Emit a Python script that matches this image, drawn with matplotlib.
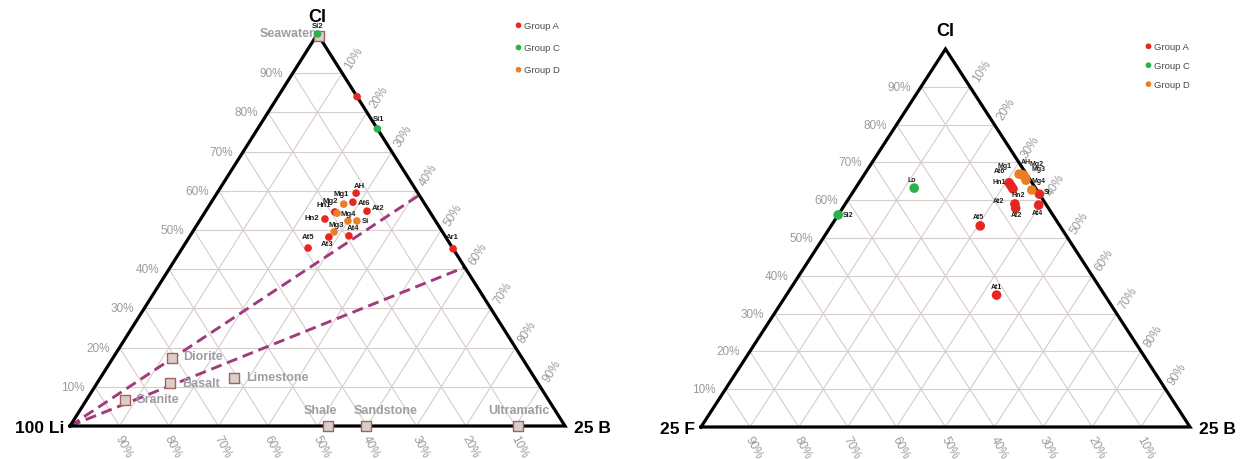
import numpy as np
import matplotlib
matplotlib.use("Agg")
import matplotlib.pyplot as plt

plt.rcParams['font.family'] = ['Liberation Sans', 'DejaVu Sans']

# ---------------------------------------------------------------- data
tick_pct = [10, 20, 30, 40, 50, 60, 70, 80, 90]

group_names = ["Group A", "Group C", "Group D"]
group_colors = {"Group A": "#e8261f", "Group C": "#2cb24d", "Group D": "#ea7f27"}

# Left diagram: Li (bottom left) - B (bottom right) - Cl (top), fractions
left_names = ["AH", "Mg1", "At6", "Hn1", "Mg2", "At2", "Hn2", "Mg4", "Si", "Mg3",
              "At4", "At3", "At5", "Si2", "", "Si1", "Ar1"]
left_groups = ["Group A", "Group D", "Group A", "Group A", "Group D", "Group A",
               "Group A", "Group D", "Group D", "Group D", "Group A", "Group A",
               "Group A", "Group C", "Group A", "Group C", "Group A"]
left_cl = [0.594, 0.566, 0.571, 0.546, 0.543, 0.548, 0.528, 0.523, 0.523, 0.495,
           0.485, 0.482, 0.454, 1.000, 0.840, 0.758, 0.452]
left_b = [0.281, 0.270, 0.286, 0.262, 0.268, 0.326, 0.251, 0.300, 0.318, 0.286,
          0.321, 0.282, 0.254, 0.000, 0.160, 0.242, 0.548]

# Reference materials on the Li-B-Cl diagram
rock_names = ["Seawater", "Diorite", "Basalt", "Limestone", "Granite",
              "Shale", "Sandstone", "Ultramafic"]
rock_cl = [0.995, 0.173, 0.110, 0.122, 0.066, 0.0, 0.0, 0.0]
rock_b = [0.005, 0.119, 0.147, 0.270, 0.078, 0.521, 0.598, 0.905]

# Mixing lines from the Li apex to the B-Cl side (Cl fraction at the side)
mixing_cl = [0.589, 0.405]

# Right diagram: F (bottom left) - B (bottom right) - Cl (top), fractions
right_names = ["Mg1", "AH", "Mg2", "Mg3", "At6", "Hn1", "Hn2", "Mg4", "Si",
               "At2", "At2", "At4", "At5", "At1", "Lo", "Si2"]
right_groups = ["Group D", "Group D", "Group D", "Group D", "Group A", "Group A",
                "Group A", "Group D", "Group A", "Group A", "Group A", "Group A",
                "Group A", "Group A", "Group C", "Group C"]
right_cl = [0.669, 0.667, 0.661, 0.653, 0.646, 0.638, 0.630, 0.627, 0.616,
            0.590, 0.579, 0.587, 0.532, 0.349, 0.632, 0.561]
right_b = [0.316, 0.325, 0.332, 0.338, 0.307, 0.315, 0.323, 0.363, 0.384,
           0.347, 0.354, 0.397, 0.305, 0.430, 0.120, 0.000]

# ---------------------------------------------------------------- layout
W, H = 1241, 460
PT = 0.72  # points per pixel at 100 dpi

GRID = "#d6cccc"
TICK = "#9b9b9b"
ROCK_TXT = "#9d9da5"

fig = plt.figure(figsize=(W / 100, H / 100), dpi=100)


def panel(x0, ybase, x1, ytop):
    ax = fig.add_axes([x0 / W, (H - ybase) / H, (x1 - x0) / W, (ybase - ytop) / H])
    ax.set_xlim(0, 1)
    ax.set_ylim(0, 1)
    ax.axis("off")
    ax.pxw, ax.pxh = x1 - x0, ybase - ytop
    return ax


def tern(b, cl):
    b = np.asarray(b, float)
    cl = np.asarray(cl, float)
    return b + cl / 2.0, cl


def off(ax, text, xy, dx, dy, **kw):
    ax.annotate(text, xy=xy, xytext=(dx * PT, -dy * PT), textcoords="offset points",
                annotation_clip=False, **kw)


def frame(ax, left_lbl, right_lbl):
    ang = np.degrees(np.arctan2(ax.pxh, ax.pxw / 2.0))
    for p in tick_pct:
        v = p / 100.0
        # constant top component
        ax.plot([v / 2, 1 - v / 2], [v, v], color=GRID, lw=0.8, zorder=1)
        # constant right component
        ax.plot([v, v + (1 - v) / 2], [0, 1 - v], color=GRID, lw=0.8, zorder=1)
        # constant left component
        ax.plot([(1 - v) / 2, 1 - v], [1 - v, 0], color=GRID, lw=0.8, zorder=1)
        off(ax, f"{p}%", (v / 2, v), -10, 0, ha="right", va="center",
            fontsize=8.5, color=TICK)
        off(ax, f"{p}%", (v + (1 - v) / 2, 1 - v), 12, -16, ha="center", va="center",
            fontsize=8.5, color=TICK, rotation=ang, rotation_mode="anchor")
        off(ax, f"{p}%", (1 - v, 0), 4, 20, ha="center", va="center",
            fontsize=8.5, color=TICK, rotation=-ang - 5, rotation_mode="anchor")
    ax.plot([0, 1, 0.5, 0], [0, 0, 1, 0], color="black", lw=2.3,
            solid_joinstyle="miter", zorder=3, clip_on=False)
    off(ax, "Cl", (0.5, 1), 0, -18, ha="center", va="center",
        fontsize=13, fontweight="bold")
    off(ax, left_lbl, (0, 0), -6, 2, ha="right", va="center",
        fontsize=12.5, fontweight="bold")
    off(ax, right_lbl, (1, 0), 9, 2, ha="left", va="center",
        fontsize=12.5, fontweight="bold")


def points(ax, names, groups, cl, b, size, label_off, fs):
    x, y = tern(b, cl)
    for g in group_names:
        idx = [i for i, gg in enumerate(groups) if gg == g]
        ax.scatter(x[idx], y[idx], s=size, color=group_colors[g], label=g,
                   edgecolors="none", zorder=5, clip_on=False)
    for i, n in enumerate(names):
        if not n:
            continue
        dx, dy, ha = label_off[i]
        off(ax, n, (x[i], y[i]), dx, dy, ha=ha, va="center", fontsize=fs,
            fontweight="bold", color="#1e1e1e", zorder=6)


def legend(ax, x_px, y_px, spacing, scale):
    ax.legend(loc="upper left", bbox_to_anchor=(x_px / W, 1 - y_px / H),
              bbox_transform=fig.transFigure, frameon=False, fontsize=6.8,
              labelcolor="#4a4a4a", handletextpad=0.1, handlelength=1.0,
              labelspacing=spacing, markerscale=scale, borderaxespad=0)


# ---------------------------------------------------------------- left diagram
axL = panel(70, 427, 565, 35)
frame(axL, "100 Li", "25 B")

for c in mixing_cl:
    axL.plot([0, 1 - c + c / 2], [0, c], color="#a23b7b", lw=2.1,
             linestyle=(0, (3.8, 2.0)), zorder=2, clip_on=False)

rx, ry = tern(rock_b, rock_cl)
axL.scatter(rx, ry, marker="s", s=42, facecolor="#d8cfcb", edgecolor="#a9605a",
            linewidth=1.0, zorder=4, clip_on=False)
rock_off = [(-4, -3, "right"), (11, -2, "left"), (12, 0, "left"), (12, -1, "left"),
            (11, -1, "left"), (-8, -16, "center"), (20, -16, "center"),
            (1, -16, "center")]
for n, xx, yy, (dx, dy, ha) in zip(rock_names, rx, ry, rock_off):
    off(axL, n, (xx, yy), dx, dy, ha=ha, va="center", fontsize=9,
        fontweight="bold", color=ROCK_TXT)

left_off = [(3, -8, "center"), (-3, -11, "center"), (5, 0, "left"),
            (-11, -7, "center"), (-7, -13, "center"), (5, -4, "left"),
            (-6, -2, "right"), (0, -7, "center"), (5, 0, "left"),
            (2, -7, "center"), (4, -8, "center"), (-2, 6, "center"),
            (0, -12, "center"), (0, -8, "center"), (0, 0, "center"),
            (1, -10, "center"), (-1, -12, "center")]
points(axL, left_names, left_groups, left_cl, left_b, 30, left_off, 5.6)
legend(axL, 510, 18, 1.4, 0.75)

# ---------------------------------------------------------------- right diagram
axR = panel(701, 428, 1190, 50)
frame(axR, "25 F", "25 B")

right_off = [(-15, -9, "center"), (3, -13, "center"), (12, -14, "center"),
             (13, -12, "center"), (-10, -12, "center"), (-12, -4, "center"),
             (5, 6, "center"), (7, -9, "center"), (4, -3, "left"),
             (-16, -3, "center"), (1, 6, "center"), (-1, 7, "center"),
             (-2, -9, "center"), (0, -9, "center"), (-2, -9, "center"),
             (5, 0, "left")]
points(axR, right_names, right_groups, right_cl, right_b, 48, right_off, 5.0)
legend(axR, 1140, 39, 1.05, 0.6)

fig.savefig("out.png", dpi=100, facecolor="white")
